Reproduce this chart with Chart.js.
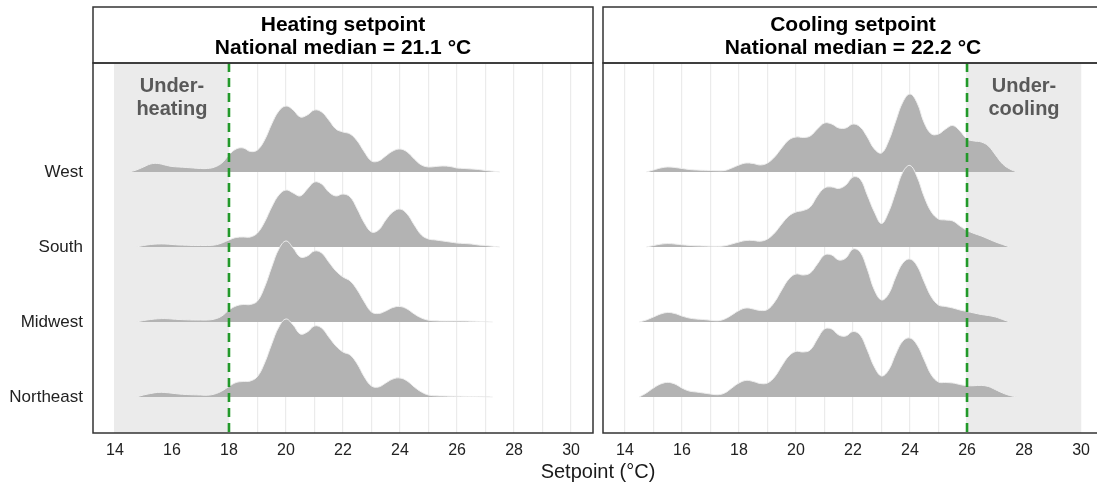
<!DOCTYPE html>
<html>
<head>
<meta charset="utf-8">
<script src="https://cdn.jsdelivr.net/npm/chart.js@4.4.1/dist/chart.umd.min.js"></script>
<style>
  html, body { margin: 0; padding: 0; background: #fff; overflow: hidden; }
  #wrap { position: relative; width: 1097px; height: 487px; overflow: hidden; }
  #heatCanvas { position: absolute; left: 0; top: 0; }
  #coolCanvas { position: absolute; left: 597px; top: 0; }
  #xTitle { position: absolute; left: 448px; width: 300px; top: 459px; text-align: center;
            font: 20px "Liberation Sans", Arial, sans-serif; color: #1a1a1a; line-height: 24px; }
</style>
</head>
<body>
<div id="wrap">
  <canvas id="heatCanvas" width="600" height="487"></canvas>
  <canvas id="coolCanvas" width="512" height="487"></canvas>
  <div id="xTitle">Setpoint (°C)</div>
</div>
<script>
// regions from bottom row to top row
const regions = ['Northeast', 'Midwest', 'South', 'West'];
const rowPos = [1, 2, 3, 4];

const xTicks = [14, 15, 16, 17, 18, 19, 20, 21, 22, 23, 24, 25, 26, 27, 28, 29, 30];
const xTickLabels = ['14', '', '16', '', '18', '', '20', '', '22', '', '24', '', '26', '', '28', '', '30'];

// temperature grid (°C) for the density curves
const temps = [14.5, 14.75,
  15, 15.25, 15.5, 15.75, 16, 16.25, 16.5, 16.75, 17, 17.25, 17.5, 17.75,
  18, 18.25, 18.5, 18.75, 19, 19.25, 19.5, 19.75, 20, 20.25, 20.5, 20.75,
  21, 21.25, 21.5, 21.75, 22, 22.25, 22.5, 22.75, 23, 23.25, 23.5, 23.75,
  24, 24.25, 24.5, 24.75, 25, 25.25, 25.5, 25.75, 26, 26.25, 26.5, 26.75,
  27, 27.25, 27.5, 27.75];

// ridge heights (75 = one row of spacing)
const heatWest = [0, 2,
  5, 8, 8.5, 7,  5.5, 5, 4.5, 4,  3.5, 3.5, 5, 9,
  17, 23, 24, 20.5,  22, 32, 48, 61,  66, 62, 55, 57,
  62, 60, 52, 43,  40, 38, 31, 20,  11, 11, 16, 21,
  23, 20, 13, 7,  5, 5.5, 6, 5.5,  4, 3.5, 3, 2.5,
  1.5, 0.8, 0, null];
const heatSouth = [null, 0,
  1.5, 2.5, 3, 3,  2.5, 2, 1.8, 1.5,  1.5, 1.5, 2, 4,
  7, 9.5, 10, 10,  14, 25, 40, 52,  57, 54, 51, 58,
  65, 63, 55, 51,  53, 50, 38, 24,  15, 17, 27, 35,
  38, 33, 22, 12,  8, 7, 6, 5,  4, 3.5, 3, 2,
  1.5, 0.7, 0, null];
const heatMidwest = [null, 0,
  1.5, 2.5, 3.2, 3.4,  3, 2.5, 2.2, 2,  2, 2, 3, 6,
  12, 16, 17.5, 17.5,  21, 35, 55, 73,  81, 74, 65, 66,
  71, 69, 60, 51,  45, 41, 32, 20,  10, 8.5, 11, 14.5,
  15.5, 13, 8, 4,  1.8, 1.2, 1, 1,  1, 1, 0.8, 0.6,
  0.3, 0, null, null];
const heatNortheast = [null, 0,
  2, 3.5, 4.6, 4.5,  3.8, 3, 2.5, 2.2,  2, 1.8, 3, 6,
  10.5, 14.5, 15.5, 16,  20.5, 34, 53, 70,  78, 72, 63, 65,
  71, 69, 60, 51,  45, 42, 33, 20,  11, 10, 14, 18,
  19, 16, 10, 5,  2, 1.2, 1, 0.8,  0.7, 0.6, 0.5, 0.4,
  0.2, 0, null, null];

const coolWest = [null, 0,
  2, 4, 5, 4.5,  3.5, 2.5, 2, 1.7,  1.5, 1.3, 1.5, 4,
  7, 9, 8.5, 7,  9, 15, 24, 32,  35, 34.5, 36, 43,
  49, 48, 44, 44,  48, 45, 35, 23,  19, 31, 51, 70,
  78, 69, 49, 38,  38, 43, 46.5, 41,  33, 31, 30, 26,
  17, 8, 3, 0];
const coolSouth = [null, 0,
  1.5, 2.8, 3.4, 3,  2.2, 1.6, 1.2, 1,  0.8, 0.7, 1.2, 3,
  5, 6.5, 6.5, 5.8,  8, 14, 23, 31,  35, 36.5, 40, 51,
  59, 60, 58.5, 62,  70, 68, 52, 35,  23.5, 35, 55, 75,
  81.5, 70, 50, 35,  28, 27, 26, 21,  16.5, 13.5, 11, 8,
  5, 2.5, 0, null];
const coolMidwest = [0, 2,
  5, 8, 9.6, 8.5,  6, 4, 3, 2.5,  1.8, 1.3, 3, 7,
  11.5, 14, 13, 11.5,  12.5, 20, 32, 43,  48, 47, 49, 58,
  67, 67, 62, 64,  73, 70, 53, 32,  22, 28, 45, 59,
  63, 56, 40, 25,  17, 15.5, 14, 12,  10.5, 9, 7.5, 6.5,
  5, 2.5, 0, null];
const coolNortheast = [0, 4,
  9, 13, 14.6, 13,  9, 6, 5, 4,  3, 2.3, 4, 9,
  14, 16.6, 15.5, 13.5,  14, 20, 31, 41,  45.6, 45, 47, 58,
  68, 68, 62, 61,  65.5, 62, 47, 30,  21, 27, 43, 56,
  59, 52, 37, 22,  15, 14.5, 14, 12.5,  11.3, 11.3, 11.6, 10.5,
  7.3, 4, 1.5, 0];

const RIDGE_UNIT = 75;
const X_MIN = 13.23, X_MAX = 30.77;
const Y_MIN = 0.52, Y_MAX = 5.453;
const FONT = '"Liberation Sans", Arial, sans-serif';

Chart.defaults.font.family = FONT;

function ridgeSets(series) {
  return series.map((vals, i) => ({
    label: regions[i],
    data: temps.map((t, k) => ({ x: t, y: vals[k] === null ? null : rowPos[i] + vals[k] / RIDGE_UNIT }))
               .filter(p => p.y !== null),
    fill: { value: rowPos[i] },
    backgroundColor: '#B3B3B3',
    borderColor: '#EEEEEE',
    borderWidth: 1,
    pointRadius: 0,
    tension: 0.4
  }));
}

const panelDecor = {
  id: 'panelDecor',
  beforeDatasetsDraw(chart, args, o) {
    const { ctx, chartArea: a, scales: { x } } = chart;
    const x0 = x.getPixelForValue(o.shade[0]);
    const x1 = x.getPixelForValue(o.shade[1]);
    ctx.save();
    ctx.fillStyle = '#EBEBEB';
    ctx.fillRect(x0, a.top, x1 - x0, a.bottom - a.top);
    ctx.restore();
  },
  afterDatasetsDraw(chart, args, o) {
    const { ctx, chartArea: a, scales: { x } } = chart;
    ctx.save();
    // note text
    ctx.fillStyle = '#595959';
    ctx.font = 'bold 20px ' + FONT;
    ctx.textAlign = 'center';
    ctx.textBaseline = 'middle';
    const tx = x.getPixelForValue(o.noteAt);
    ctx.fillText(o.note[0], tx, a.top + 23.5);
    ctx.fillText(o.note[1], tx, a.top + 46.5);
    // threshold line
    const cx = x.getPixelForValue(o.cutoff);
    ctx.strokeStyle = '#22992A';
    ctx.lineWidth = 2.6;
    ctx.setLineDash([9, 6]);
    ctx.beginPath();
    ctx.moveTo(cx, a.top);
    ctx.lineTo(cx, a.bottom);
    ctx.stroke();
    ctx.restore();
  },
  afterDraw(chart, args, o) {
    const { ctx, chartArea: a } = chart;
    ctx.save();
    ctx.fillStyle = '#fff';
    ctx.fillRect(a.left, 7, a.right - a.left, a.top - 7);
    ctx.strokeStyle = '#333';
    ctx.lineWidth = 1.5;
    ctx.strokeRect(a.left, 7, a.right - a.left, a.top - 7);
    ctx.strokeRect(a.left, a.top, a.right - a.left, a.bottom - a.top);
    ctx.fillStyle = '#000';
    ctx.font = 'bold 21px ' + FONT;
    ctx.textAlign = 'center';
    ctx.textBaseline = 'middle';
    const mx = (a.left + a.right) / 2;
    ctx.fillText(o.title[0], mx, 25);
    ctx.fillText(o.title[1], mx, 48);
    ctx.restore();
  }
};

function makePanel(canvasId, series, showY, pad, decor) {
  return new Chart(document.getElementById(canvasId), {
    type: 'line',
    data: { datasets: ridgeSets(series) },
    plugins: [panelDecor],
    options: {
      responsive: false,
      animation: false,
      events: [],
      layout: { padding: pad },
      plugins: {
        legend: { display: false },
        tooltip: { enabled: false },
        panelDecor: decor
      },
      scales: {
        x: {
          type: 'linear', min: X_MIN, max: X_MAX,
          afterBuildTicks: s => { s.ticks = xTicks.map(v => ({ value: v })); },
          ticks: {
            autoSkip: false, maxRotation: 0, padding: 8,
            callback: (v, i) => xTickLabels[i],
            font: { size: 16 }, color: '#222'
          },
          grid: { color: '#EBEBEB', lineWidth: 1.2, drawTicks: false },
          border: { display: false },
          afterFit: s => { s.height = 54; }
        },
        y: {
          type: 'linear', min: Y_MIN, max: Y_MAX,
          display: showY,
          afterBuildTicks: s => { s.ticks = rowPos.map(v => ({ value: v })); },
          ticks: {
            padding: 10,
            callback: (v, i) => regions[i],
            font: { size: 17 }, color: '#222'
          },
          grid: { display: false, drawTicks: false },
          border: { display: false },
          afterFit: s => { s.width = showY ? 93 : 0; }
        }
      }
    }
  });
}

makePanel('heatCanvas', [heatNortheast, heatMidwest, heatSouth, heatWest], true,
  { left: 0, right: 7, top: 63, bottom: 0 },
  { shade: [14, 18], cutoff: 18, noteAt: 16, note: ['Under-', 'heating'],
    title: ['Heating setpoint', 'National median = 21.1 °C'] });

makePanel('coolCanvas', [coolNortheast, coolMidwest, coolSouth, coolWest], false,
  { left: 6, right: 6, top: 63, bottom: 0 },
  { shade: [26, 30], cutoff: 26, noteAt: 28, note: ['Under-', 'cooling'],
    title: ['Cooling setpoint', 'National median = 22.2 °C'] });
</script>
</body>
</html>
